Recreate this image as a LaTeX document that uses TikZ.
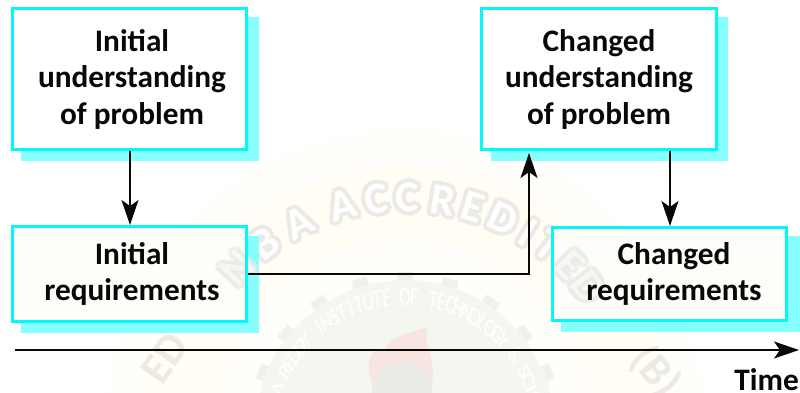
\documentclass[tikz,border=0pt]{standalone}
\usepackage{fontspec}
\setmainfont{Carlito}
\usetikzlibrary{arrows.meta}
\definecolor{boxcyan}{HTML}{00FAFA}
\definecolor{shadowcyan}{HTML}{80FFFF}
\definecolor{inkc}{HTML}{0A0806}
\definecolor{wmcream}{HTML}{FFFEFA}
\definecolor{wmcreamb}{HTML}{FFFDF4}
\definecolor{wmgreen}{HTML}{F4F7F0}
\definecolor{wmgreend}{HTML}{EDF3EA}
\definecolor{wmgray}{HTML}{ECEAE5}
\definecolor{wmred}{HTML}{F8E4E0}
\definecolor{wmflame}{HTML}{EAEBE6}
\definecolor{boxcream}{HTML}{FFFDF7}
\newcommand{\kk}[1]{\hspace*{#1pt}}
\tikzset{
  x=1pt,y=-1pt,
  reqbox/.style={draw=boxcyan,line width=3pt,inner sep=0pt,align=center,
     font=\fontsize{31.3}{36.5}\selectfont\bfseries,text=inkc},
  shadowbox/.style={fill=shadowcyan,fill opacity=.94,draw=none},
  conn/.style={draw=inkc,line width=1.4pt,-{Stealth[length=25pt,width=17pt,inset=6pt]}},
  wmbig/.style={inner sep=0pt,font=\fontsize{44}{44}\selectfont\bfseries}
}
\begin{document}
\begin{tikzpicture}
\useasboundingbox (0,0) rectangle (800,393);
\fill[white] (0,0) rectangle (800,393);
\begin{scope}
\clip (0,0) rectangle (800,393);
% watermark seal
\fill[wmcream] (405,430) circle[radius=300pt];
\fill[wmcreamb] (405,430) circle[radius=262pt];
\fill[wmcream] (405,430) circle[radius=190pt];
\foreach \a in {-158,-141,...,-20}{\fill[wmgreend,rotate around={\a+90:(405,430)}] (397,272) rectangle (413,295);}
\fill[wmgreen] (405,430) circle[radius=150pt];
\fill[wmred] (375,393) .. controls (360,355) and (375,345) .. (385,352) .. controls (385,340) and (400,335) .. (428,327) .. controls (420,345) and (440,355) .. (430,393) -- cycle;
\fill[wmflame] (402,393) ellipse[x radius=30pt,y radius=32pt];
\foreach \ch/\th [count=\i] in {B/-37,A/-27,A/-15.6,C/-7,C/.5,R/9.3,E/17,D/25,I/32,T/38}{
  \foreach \dx/\dy in {-4/0,4/0,0/-4,0/4,-3/-3,3/-3,-3/3,3/3}{
    \node[wmbig,text=wmgray,rotate=-\th] at ({405+233*sin(\th)+\dx},{430-233*cos(\th)+\dy}) {\ch};
  }
}
\foreach \ch/\th [count=\i] in {B/-37,A/-27,A/-15.6,C/-7,C/.5,R/9.3,E/17,D/25,I/32,T/38}{
  \node[wmbig,text=white,rotate=-\th] (wmn\i) at ({405+233*sin(\th)},{430-233*cos(\th)}) {\ch};
}
\foreach \ch [count=\i] in {A,{},R,E,D,D,Y,{},I,N,S,T,I,T,U,T,E,{},O,F,{},T,E,C,H,N,O,L,O,G,Y,{},\&,{},S,C,I,E,N,C,E}{
  \pgfmathsetmacro{\th}{-76+4*\i}
  \node[inner sep=0pt,text=white,xscale=.65,font=\fontsize{27}{27}\selectfont,rotate=-\th] (wmi\i) at ({405+133*sin(\th)},{430-133*cos(\th)}) {\ch};
}
\node[wmbig,rotate=55,text=wmgray] (wmed) at (165,358) {ED};
\node[wmbig,rotate=-50,text=wmgray] (wmb) at (655,372) {(B)};
\end{scope}
% shadows
\fill[shadowbox] (21,17) rectangle (259,161);
\fill[shadowbox] (21,236) rectangle (259,333);
\fill[shadowbox] (491,17) rectangle (728,161);
\fill[shadowbox] (561,236) rectangle (800,332);
% box fills
\fill[white] (12.5,8.5) rectangle (246.5,149.5);
\fill[white] (481.5,8.5) rectangle (716.5,149.5);
\fill[boxcream] (12.5,226.5) rectangle (246.5,321.5);
\fill[boxcream] (552.5,227.5) rectangle (786.5,320.5);
% watermark letters that lie over the lower boxes
\begin{scope}[opacity=.6]
\foreach \ch/\th [count=\i] in {N/-46,E/45,D/52}{
  \foreach \dx/\dy in {-4/0,4/0,0/-4,0/4,-3/-3,3/-3,-3/3,3/3}{
    \node[wmbig,text=wmgray,rotate=-\th] at ({405+233*sin(\th)+\dx},{430-233*cos(\th)+\dy}) {\ch};
  }
}
\foreach \ch/\th [count=\i] in {N/-46,E/45,D/52}{
  \node[wmbig,text=white,rotate=-\th] (wmo\i) at ({405+233*sin(\th)},{430-233*cos(\th)}) {\ch};
}
\end{scope}
% boxes
\node[reqbox,minimum width=234pt,minimum height=141pt] (iu) at (129.5,79) {\kk{5}Initial\\\kk{5}understanding\\\kk{5}of problem};
\node[reqbox,minimum width=234pt,minimum height=95pt] (ir) at (129.5,274) {\kk{5}Initial\\\kk{5}requirements};
\node[reqbox,minimum width=235pt,minimum height=141pt] (cu) at (599,79) {Changed\\understanding\\of problem};
\node[reqbox,minimum width=234pt,minimum height=93pt] (cr) at (669.5,274) {\kk{9}Changed\\\kk{9}requirements};
% connectors
\draw[conn] ([xshift=.5pt]iu.south) -- ([xshift=.5pt]ir.north);
\draw[conn] ([xshift=.5pt]cu.south -| cr.north) -- ([xshift=.5pt]cr.north);
\coordinate (rise) at (529,153);
\draw[conn] (ir.east) -- (rise |- ir.east) -- (rise);
\coordinate (tstart) at (15,350);
\coordinate (tend) at (799,350);
\draw[conn,line width=1.2pt] (tstart) -- (tend);
\node[anchor=base east,inner sep=0pt,font=\fontsize{31.3}{38}\selectfont\bfseries,text=inkc] (time) at (799,390) {Time};
\end{tikzpicture}
\end{document}
